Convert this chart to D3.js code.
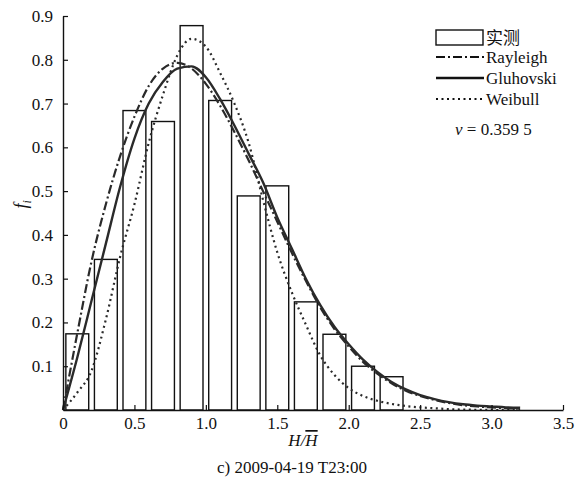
<!DOCTYPE html>
<html>
<head>
<meta charset="utf-8">
<script src="https://cdn.jsdelivr.net/npm/d3@7"></script>
<style>
  body { margin: 0; background: #fff; }
  svg text { font-family: "Liberation Serif", "DejaVu Serif", serif; fill: #111; }
  svg text.cjk { font-family: "Noto Sans CJK SC", sans-serif; }
</style>
</head>
<body>
<svg id="chart" width="583" height="493"></svg>
<script>
// 实测直方图
const binCenters = [0.1, 0.3, 0.5, 0.7, 0.9, 1.1, 1.3, 1.5, 1.7, 1.9, 2.1, 2.3];
const measured = [0.174, 0.344, 0.684, 0.659, 0.878, 0.707, 0.489, 0.512, 0.247, 0.173, 0.100, 0.076];
const binWidth = 0.16;

// 曲线
const curveX = [0, 0.1, 0.2, 0.3, 0.4, 0.5, 0.6, 0.7, 0.8, 0.9, 1.0, 1.1, 1.2, 1.3, 1.4, 1.5, 1.6,
                1.7, 1.8, 1.9, 2.0, 2.1, 2.2, 2.3, 2.4, 2.5, 2.6, 2.7, 2.8, 2.9, 3.0, 3.1, 3.2];
const rayleigh = [0, 0.175, 0.34, 0.47, 0.58, 0.67, 0.74, 0.78, 0.793, 0.78, 0.745, 0.695, 0.635, 0.57, 0.50, 0.43, 0.36,
                  0.295, 0.235, 0.185, 0.145, 0.11, 0.083, 0.061, 0.044, 0.032, 0.023, 0.016, 0.011, 0.008, 0.006, 0.004, 0.003];
const gluhovski = [0, 0.12, 0.25, 0.38, 0.51, 0.62, 0.70, 0.75, 0.78, 0.785, 0.76, 0.71, 0.65, 0.585, 0.52, 0.44, 0.37,
                   0.30, 0.24, 0.19, 0.15, 0.115, 0.087, 0.064, 0.047, 0.034, 0.025, 0.018, 0.013, 0.010, 0.008, 0.006, 0.005];
const weibull = [0, 0.04, 0.09, 0.207, 0.35, 0.47, 0.61, 0.72, 0.81, 0.848, 0.83, 0.77, 0.70, 0.61, 0.48, 0.36, 0.27,
                 0.195, 0.125, 0.08, 0.05, 0.032, 0.021, 0.014, 0.009, 0.006, 0.004, 0.002, 0.001, 0.0005, 0, 0, 0];

const xTicks = [0, 0.5, 1.0, 1.5, 2.0, 2.5, 3.0, 3.5];
const yTicks = [0.1, 0.2, 0.3, 0.4, 0.5, 0.6, 0.7, 0.8, 0.9];
const legendLabels = ["实测", "Rayleigh", "Gluhovski", "Weibull"];
const vLabel = "0.359 5";
const caption = "c) 2009-04-19 T23:00";

const svg = d3.select("#chart");
const margin = {top: 16, right: 20, bottom: 83, left: 63};
const width = 583 - margin.left - margin.right;
const height = 493 - margin.top - margin.bottom;

const chart = svg.append("g")
    .attr("transform", `translate(${margin.left},${margin.top})`);

const x = d3.scaleLinear().domain([0, 3.5]).range([0, width]);
const y = d3.scaleLinear().domain([0, 0.9]).range([height, 0]);

// 柱子
chart.selectAll("rect.bar")
    .data(binCenters)
    .enter().append("rect")
    .attr("class", "bar")
    .attr("x", d => x(d - binWidth / 2))
    .attr("width", d => x(binWidth) - x(0))
    .attr("y", (d, i) => y(measured[i]))
    .attr("height", (d, i) => y(0) - y(measured[i]))
    .attr("fill", "#fff")
    .attr("stroke", "#111")
    .attr("stroke-width", 1.4);

const styles = [
    {data: rayleigh, dash: "9,3,2,3", w: 2.2},
    {data: gluhovski, dash: null, w: 2.4},
    {data: weibull, dash: "2,3.5", w: 2.2}
];

styles.forEach(s => {
    const line = d3.line()
        .x((d, i) => x(curveX[i]))
        .y(d => y(d))
        .curve(d3.curveMonotoneX);
    chart.append("path")
        .datum(s.data)
        .attr("fill", "none")
        .attr("stroke", "#2a2a2a")
        .attr("stroke-width", s.w)
        .attr("stroke-dasharray", s.dash)
        .attr("d", line);
});

// 坐标轴
const xAxis = chart.append("g")
    .attr("transform", `translate(0,${height})`)
    .call(d3.axisBottom(x).tickValues(xTicks).tickSizeInner(-5).tickSizeOuter(0)
        .tickPadding(10).tickFormat(d => d === 0 ? "0" : d3.format(".1f")(d)));
const yAxis = chart.append("g")
    .call(d3.axisLeft(y).tickValues(yTicks).tickSizeInner(-5).tickSizeOuter(0)
        .tickPadding(10).tickFormat(d3.format(".1f")));

[xAxis, yAxis].forEach(a => {
    a.attr("font-family", null);
    a.select(".domain").attr("stroke", "#111").attr("stroke-width", 1.4);
    a.selectAll(".tick line").attr("stroke", "#111").attr("stroke-width", 1.2);
    a.selectAll(".tick text").style("font-size", "17px").attr("fill", "#111");
});
xAxis.selectAll(".tick text").attr("dy", "0.55em");

// 轴标题
const xl = svg.append("text")
    .attr("x", margin.left + width / 2 - 10)
    .attr("y", 446)
    .attr("text-anchor", "middle")
    .style("font-size", "17px")
    .style("font-style", "italic");
xl.append("tspan").text("H/");
xl.append("tspan").style("text-decoration", "overline").text("H");

const yl = svg.append("text")
    .attr("transform", `translate(27,${margin.top + y(0.47)}) rotate(-90)`)
    .attr("text-anchor", "middle")
    .style("font-size", "18px")
    .style("font-style", "italic");
yl.append("tspan").text("f");
yl.append("tspan").attr("dy", 4).style("font-size", "12px").text("i");

svg.append("text")
    .attr("x", 292)
    .attr("y", 473)
    .attr("text-anchor", "middle")
    .style("font-size", "17px")
    .text(caption);

// 图例
const leg = svg.append("g").attr("transform", "translate(436,30)");
leg.append("rect")
    .attr("x", 0).attr("y", 0).attr("width", 47).attr("height", 15)
    .attr("fill", "#fff").attr("stroke", "#111").attr("stroke-width", 1.4);
styles.forEach((s, i) => {
    const yy = 27 + i * 21;
    leg.append("line")
        .attr("x1", 0).attr("x2", 48).attr("y1", yy).attr("y2", yy)
        .attr("stroke", "#111").attr("stroke-width", s.w)
        .attr("stroke-dasharray", s.dash);
});
legendLabels.forEach((t, i) => {
    leg.append("text")
        .attr("class", i === 0 ? "cjk" : null)
        .attr("x", 50)
        .attr("y", 8 + i * 21 - (i === 0 ? 0 : 2))
        .attr("dy", "0.35em")
        .style("font-size", "17px")
        .text(t);
});
const vt = leg.append("text")
    .attr("x", 19).attr("y", 105)
    .style("font-size", "17px");
vt.append("tspan").style("font-style", "italic").text("v");
vt.append("tspan").text(" = " + vLabel);
</script>
</body>
</html>
